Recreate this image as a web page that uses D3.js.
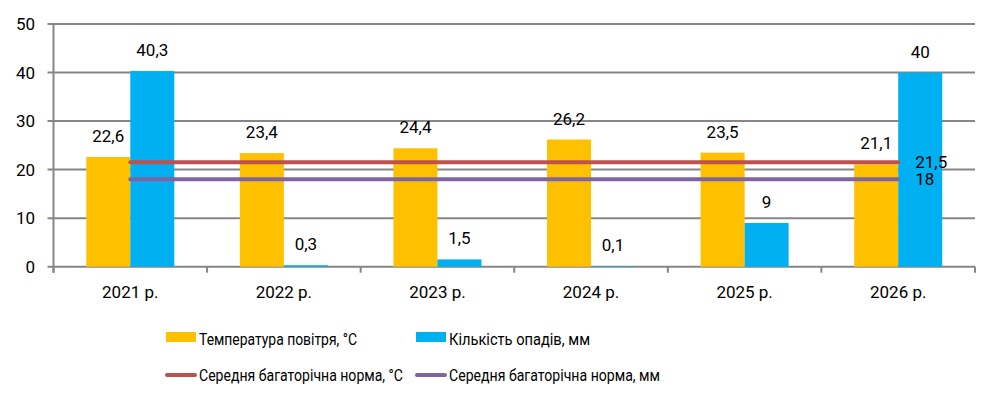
<!DOCTYPE html>
<html>
<head>
<meta charset="utf-8">
<script src="https://cdn.jsdelivr.net/npm/d3@7"></script>
<style>
  body { margin: 0; background: #fff; }
  text { font-family: Roboto, "Noto Sans", sans-serif; fill: #000; }
</style>
</head>
<body>
<script>
const years = ["2021 р.", "2022 р.", "2023 р.", "2024 р.", "2025 р.", "2026 р."];
const temperature = [22.6, 23.4, 24.4, 26.2, 23.5, 21.1];
const precipitation = [40.3, 0.3, 1.5, 0.1, 9, 40];
const tempNorm = [21.5, 21.5, 21.5, 21.5, 21.5, 21.5];
const precipNorm = [18, 18, 18, 18, 18, 18];
const yTicks = [0, 10, 20, 30, 40, 50];

const w = 998;
const h = 404;
const plotLeft = 53.5, plotRight = 975, plotTop = 24, plotBottom = 266.7;

const fmt = v => String(v).replace(".", ",");

const svg = d3.select("body").append("svg")
    .attr("width", w)
    .attr("height", h);

const x0 = d3.scaleBand().domain(years).range([plotLeft, plotRight]);
const x1 = d3.scaleBand().domain(["t", "p"]).range([0, x0.bandwidth()]).paddingOuter(0.745);
const y = d3.scaleLinear().domain([0, 50]).range([plotBottom, plotTop]);

// gridlines
svg.append("g").selectAll("line")
    .data(yTicks)
    .enter().append("line")
    .attr("x1", plotLeft - 6).attr("x2", plotRight)
    .attr("y1", d => y(d)).attr("y2", d => y(d))
    .attr("stroke", "#868686").attr("stroke-width", 2);

// y labels
svg.append("g").selectAll("text")
    .data(yTicks)
    .enter().append("text")
    .attr("x", 35).attr("y", d => y(d) + 6)
    .attr("text-anchor", "end")
    .attr("font-size", 17)
    .text(d => d);

// y axis line
svg.append("line")
    .attr("x1", plotLeft).attr("x2", plotLeft)
    .attr("y1", plotTop).attr("y2", plotBottom + 6)
    .attr("stroke", "#868686").attr("stroke-width", 2);

// x ticks at category boundaries
const bounds = years.map(d => x0(d)).concat([plotRight]);
svg.append("g").selectAll("line")
    .data(bounds)
    .enter().append("line")
    .attr("x1", d => d).attr("x2", d => d)
    .attr("y1", plotBottom).attr("y2", plotBottom + 6)
    .attr("stroke", "#868686").attr("stroke-width", 2);

// bars
const groups = svg.append("g").selectAll("g")
    .data(years)
    .enter().append("g")
    .attr("transform", d => "translate(" + x0(d) + ",0)");

groups.append("rect")
    .attr("x", x1("t"))
    .attr("width", x1.bandwidth())
    .attr("y", (d, i) => y(temperature[i]))
    .attr("height", (d, i) => plotBottom - y(temperature[i]))
    .attr("fill", "#FFC000");

groups.append("rect")
    .attr("x", x1("p"))
    .attr("width", x1.bandwidth())
    .attr("y", (d, i) => y(precipitation[i]))
    .attr("height", (d, i) => plotBottom - y(precipitation[i]))
    .attr("fill", "#00B0F0");

// bar labels
groups.append("text")
    .attr("x", x1("t") + x1.bandwidth() / 2)
    .attr("y", (d, i) => y(temperature[i]) - 15)
    .attr("text-anchor", "middle")
    .attr("font-size", 17)
    .text((d, i) => fmt(temperature[i]));

groups.append("text")
    .attr("x", x1("p") + x1.bandwidth() / 2)
    .attr("y", (d, i) => y(precipitation[i]) - 15)
    .attr("text-anchor", "middle")
    .attr("font-size", 17)
    .text((d, i) => fmt(precipitation[i]));

// x labels
groups.append("text")
    .attr("x", x0.bandwidth() / 2)
    .attr("y", 298)
    .attr("text-anchor", "middle")
    .attr("font-size", 17)
    .text(d => d);

// norm lines
const cx = d => x0(d) + x0.bandwidth() / 2;
const norms = [
    { values: tempNorm, color: "#C0504D" },
    { values: precipNorm, color: "#8064A2" }
];

norms.forEach(n => {
    const line = d3.line()
        .x((d, i) => cx(years[i]))
        .y(d => y(d));
    svg.append("path")
        .datum(n.values)
        .attr("d", line)
        .attr("fill", "none")
        .attr("stroke", n.color)
        .attr("stroke-width", 4)
        .attr("stroke-linecap", "round");
    const last = n.values.length - 1;
    svg.append("text")
        .attr("x", cx(years[last]) + 17)
        .attr("y", y(n.values[last]) + 6)
        .attr("font-size", 17)
        .text(fmt(n.values[last]));
});

// legend
const legend = [
    { label: "Температура повітря, °С", color: "#FFC000", type: "rect", x: 166, y: 339, len: 158 },
    { label: "Кількість опадів, мм", color: "#00B0F0", type: "rect", x: 416, y: 339, len: 141 },
    { label: "Середня багаторічна норма, °С", color: "#C0504D", type: "line", x: 166, y: 375, len: 204 },
    { label: "Середня багаторічна норма, мм", color: "#8064A2", type: "line", x: 416, y: 375, len: 211 }
];

const lg = svg.append("g").selectAll("g")
    .data(legend)
    .enter().append("g")
    .attr("transform", d => "translate(" + d.x + "," + d.y + ")");

lg.filter(d => d.type === "rect").append("rect")
    .attr("x", 0).attr("y", -7)
    .attr("width", 30).attr("height", 10)
    .attr("fill", d => d.color);

lg.filter(d => d.type === "line").append("line")
    .attr("x1", 1).attr("x2", 29)
    .attr("y1", 0).attr("y2", 0)
    .attr("stroke", d => d.color)
    .attr("stroke-width", 4)
    .attr("stroke-linecap", "round");

lg.append("text")
    .attr("x", 33).attr("y", 6)
    .attr("font-size", 17)
    .attr("textLength", d => d.len)
    .attr("lengthAdjust", "spacingAndGlyphs")
    .text(d => d.label);
</script>
</body>
</html>
